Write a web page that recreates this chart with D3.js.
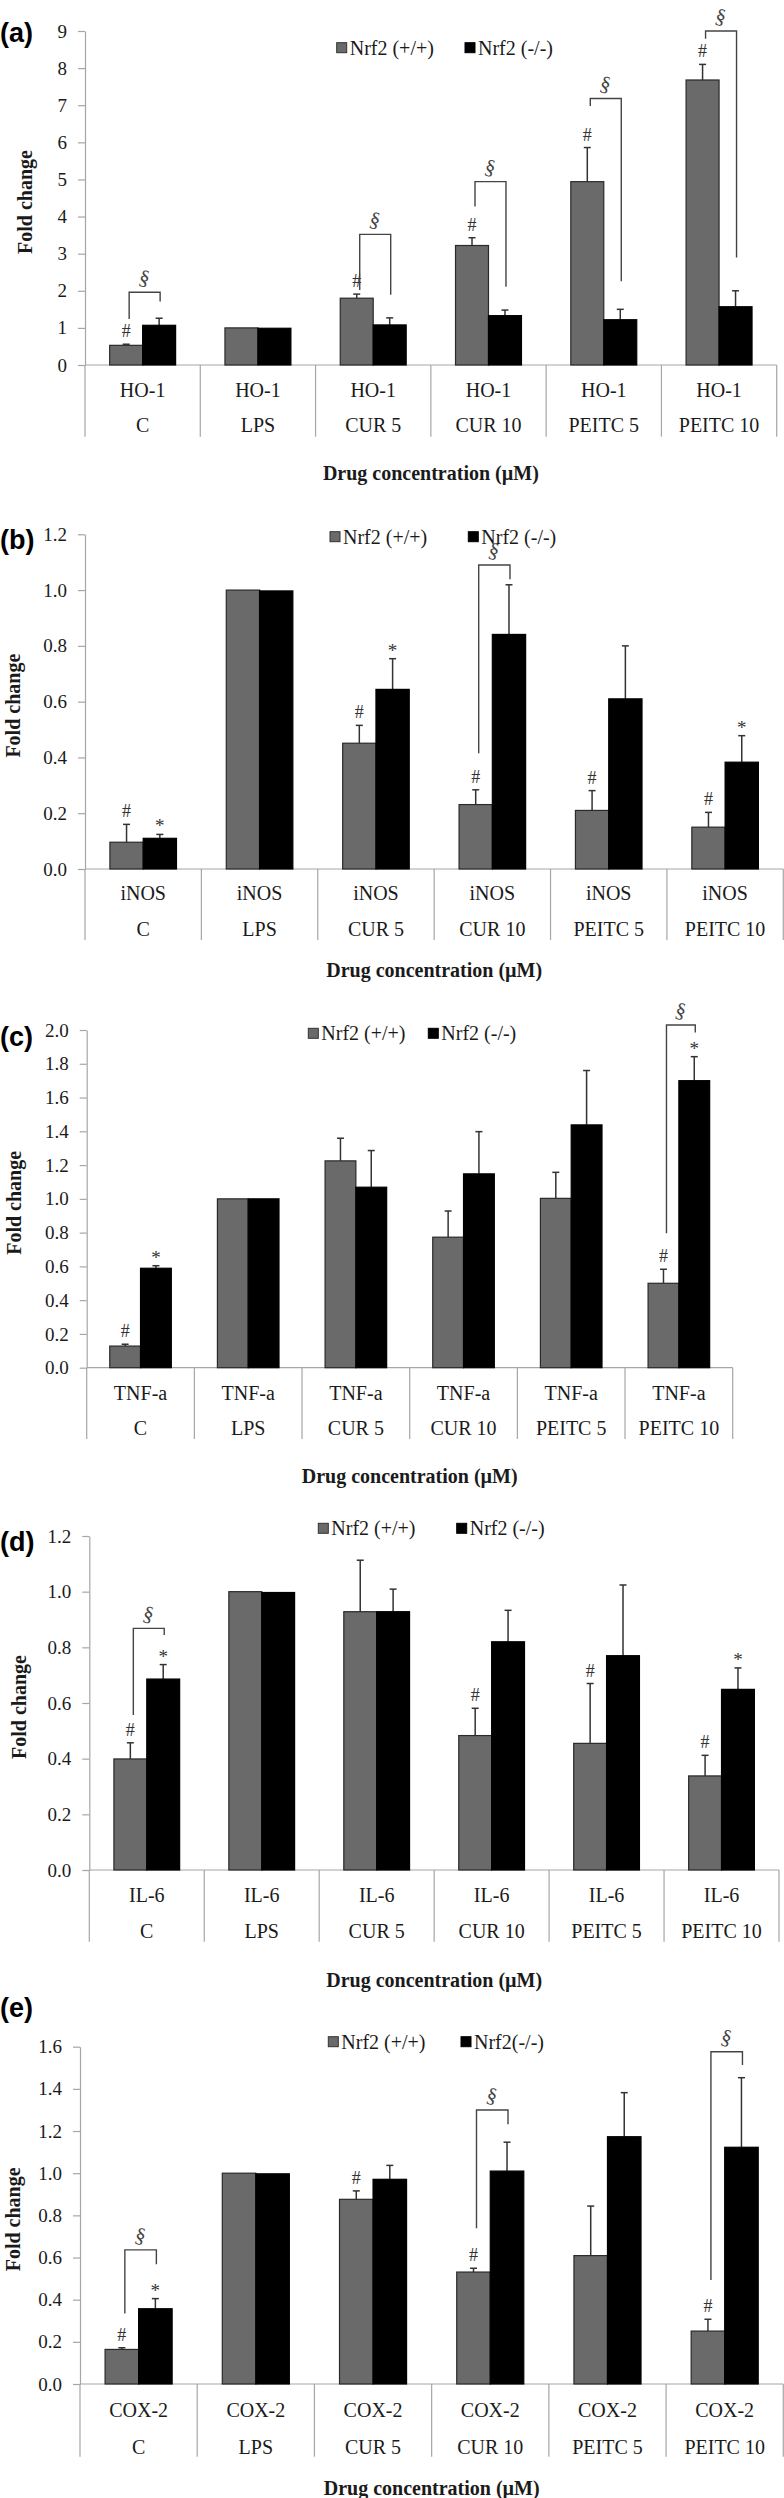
<!DOCTYPE html>
<html><head><meta charset="utf-8">
<script src="https://cdn.jsdelivr.net/npm/d3@7"></script>
<style>body{margin:0;background:#fff} svg{display:block}</style>
</head><body>
<svg id="chart" width="784" height="2498"></svg>
<script>
// ---------- DATA ----------
const categories = ["C", "LPS", "CUR 5", "CUR 10", "PEITC 5", "PEITC 10"];
const seriesNames = ["Nrf2 (+/+)", "Nrf2 (-/-)"];
const seriesNamesE = ["Nrf2 (+/+)", "Nrf2(-/-)"];
const xTitle = "Drug concentration (\u00B5M)";
const yTitle = "Fold change";

// (a) HO-1
const hoWT = [0.53, 1.00, 1.80, 3.22, 4.94, 7.68];
const hoWTErr = [0.03, 0.00, 0.11, 0.21, 0.92, 0.42];
const hoKO = [1.07, 0.99, 1.08, 1.33, 1.22, 1.57];
const hoKOErr = [0.19, 0.00, 0.19, 0.15, 0.28, 0.43];
const hoHash = ["C", "CUR 5", "CUR 10", "PEITC 5", "PEITC 10"];
const hoStar = [];
const hoBrackets = [
  {cat: "C", top: 1.96, left: 1.24, right: 1.71},
  {cat: "CUR 5", top: 3.52, left: 2.02, right: 1.89},
  {cat: "CUR 10", top: 4.94, left: 4.27, right: 2.11},
  {cat: "PEITC 5", top: 7.18, left: 6.98, right: 2.26},
  {cat: "PEITC 10", top: 9.0, left: 8.79, right: 2.90}
];
const hoTicks = [0, 1, 2, 3, 4, 5, 6, 7, 8, 9];

// (b) iNOS
const inosWT = [0.096, 1.00, 0.451, 0.231, 0.21, 0.15];
const inosWTErr = [0.064, 0.00, 0.064, 0.053, 0.071, 0.053];
const inosKO = [0.11, 0.997, 0.644, 0.841, 0.61, 0.383];
const inosKOErr = [0.014, 0.00, 0.11, 0.178, 0.19, 0.095];
const inosHash = ["C", "CUR 5", "CUR 10", "PEITC 5", "PEITC 10"];
const inosStar = ["C", "CUR 5", "PEITC 10"];
const inosBrackets = [{cat: "CUR 10", top: 1.09, left: 0.415, right: 1.039}];
const inosTicks = [0, 0.2, 0.4, 0.6, 0.8, 1.0, 1.2];

// (c) TNF-a
const tnfWT = [0.128, 1.00, 1.225, 0.773, 1.003, 0.50];
const tnfWTErr = [0.011, 0.00, 0.134, 0.155, 0.154, 0.083];
const tnfKO = [0.589, 1.00, 1.069, 1.148, 1.438, 1.70];
const tnfKOErr = [0.015, 0.00, 0.217, 0.25, 0.322, 0.142];
const tnfHash = ["C", "PEITC 10"];
const tnfStar = ["C", "PEITC 10"];
const tnfBrackets = [{cat: "PEITC 10", top: 2.03, left: 0.796, right: 1.985}];
const tnfTicks = [0, 0.2, 0.4, 0.6, 0.8, 1.0, 1.2, 1.4, 1.6, 1.8, 2.0];

// (d) IL-6
const il6WT = [0.399, 1.00, 0.928, 0.483, 0.455, 0.338];
const il6WTErr = [0.058, 0.00, 0.185, 0.098, 0.215, 0.074];
const il6KO = [0.686, 0.997, 0.928, 0.82, 0.77, 0.649];
const il6KOErr = [0.052, 0.00, 0.081, 0.113, 0.254, 0.077];
const il6Hash = ["C", "CUR 10", "PEITC 5", "PEITC 10"];
const il6Star = ["C", "PEITC 10"];
const il6Brackets = [{cat: "C", top: 0.868, left: 0.557, right: 0.844}];
const il6Ticks = [0, 0.2, 0.4, 0.6, 0.8, 1.0, 1.2];

// (e) COX-2
const coxWT = [0.164, 1.00, 0.876, 0.531, 0.609, 0.251];
const coxWTErr = [0.008, 0.00, 0.04, 0.018, 0.235, 0.056];
const coxKO = [0.357, 0.997, 0.971, 1.010, 1.173, 1.123];
const coxKOErr = [0.048, 0.00, 0.066, 0.137, 0.209, 0.33];
const coxHash = ["C", "CUR 5", "CUR 10", "PEITC 10"];
const coxStar = ["C"];
const coxBrackets = [
  {cat: "C", top: 0.636, left: 0.335, right: 0.568},
  {cat: "CUR 10", top: 1.30, left: 0.739, right: 1.232},
  {cat: "PEITC 10", top: 1.576, left: 0.493, right: 1.513}
];
const coxTicks = [0, 0.2, 0.4, 0.6, 0.8, 1.0, 1.2, 1.4, 1.6];

// ---------- PANELS (data + layout) ----------
const panels = [
  {tag: "(a)", gene: "HO-1", wt: hoWT, wtErr: hoWTErr, ko: hoKO, koErr: hoKOErr, hash: hoHash, star: hoStar, brackets: hoBrackets, ticks: hoTicks, fmt: "d", names: seriesNames,
   x0: 85, x1: 776.7, yZero: 365, yTop: 31, divBottom: 436.7, lab1Y: 390, lab2Y: 425, titleY: 473, legY: 47.7, legGX: 336.7, legBX: 465, tagY: 33, yTitleX: 25},
  {tag: "(b)", gene: "iNOS", wt: inosWT, wtErr: inosWTErr, ko: inosKO, koErr: inosKOErr, hash: inosHash, star: inosStar, brackets: inosBrackets, ticks: inosTicks, fmt: ".1f", names: seriesNames,
   x0: 85, x1: 783.3, yZero: 869, yTop: 534.3, divBottom: 940, lab1Y: 893.3, lab2Y: 929.3, titleY: 970, legY: 536.7, legGX: 330, legBX: 468.3, tagY: 540, yTitleX: 13},
  {tag: "(c)", gene: "TNF-a", wt: tnfWT, wtErr: tnfWTErr, ko: tnfKO, koErr: tnfKOErr, hash: tnfHash, star: tnfStar, brackets: tnfBrackets, ticks: tnfTicks, fmt: ".1f", names: seriesNames,
   x0: 86.7, x1: 732.7, yZero: 1367.7, yTop: 1030, divBottom: 1439, lab1Y: 1393.3, lab2Y: 1428.3, titleY: 1475.7, legY: 1033.3, legGX: 308.3, legBX: 428.3, tagY: 1036.7, yTitleX: 14},
  {tag: "(d)", gene: "IL-6", wt: il6WT, wtErr: il6WTErr, ko: il6KO, koErr: il6KOErr, hash: il6Hash, star: il6Star, brackets: il6Brackets, ticks: il6Ticks, fmt: ".1f", names: seriesNames,
   x0: 89.3, x1: 779, yZero: 1870, yTop: 1536, divBottom: 1941.7, lab1Y: 1895, lab2Y: 1930.7, titleY: 1980, legY: 1528.3, legGX: 318.3, legBX: 456.7, tagY: 1541.7, yTitleX: 19},
  {tag: "(e)", gene: "COX-2", wt: coxWT, wtErr: coxWTErr, ko: coxKO, koErr: coxKOErr, hash: coxHash, star: coxStar, brackets: coxBrackets, ticks: coxTicks, fmt: ".1f", names: seriesNamesE,
   x0: 80, x1: 783.3, yZero: 2384, yTop: 2046.7, divBottom: 2456.7, lab1Y: 2410, lab2Y: 2446.7, titleY: 2488.3, legY: 2041.7, legGX: 328.3, legBX: 461, tagY: 2008, yTitleX: 13}
];

// ---------- DRAW ----------
const svg = d3.select("#chart");
const serif = "'Liberation Serif','Times New Roman',Times,serif";
const sans = "'Liberation Sans',Arial,sans-serif";
const axisColor = "#a6a6a6";
const grayFill = "#6a6a6a";
const textColor = "#1a1a1a";

panels.forEach(p => {
  const g = svg.append("g");
  const max = p.ticks[p.ticks.length - 1];
  const x = d3.scaleBand().domain(categories).range([p.x0, p.x1]);
  const y = d3.scaleLinear().domain([0, max]).range([p.yZero, p.yTop]);
  const bw = x.bandwidth() * 0.286;
  const cx = c => x(c) + x.bandwidth() / 2;

  // y axis
  const ax = d3.axisLeft(y).tickValues(p.ticks).tickFormat(d3.format(p.fmt))
    .tickSize(7).tickSizeOuter(0).tickPadding(11);
  const axG = g.append("g").attr("transform", `translate(${p.x0},0)`).call(ax);
  axG.select(".domain").attr("stroke", axisColor).attr("stroke-width", 1.2);
  axG.selectAll(".tick line").attr("stroke", axisColor).attr("stroke-width", 1.2);
  axG.selectAll(".tick text").attr("font-family", serif).attr("font-size", 19).attr("fill", textColor);

  // x baseline + dividers
  g.append("line").attr("x1", p.x0).attr("x2", p.x1).attr("y1", p.yZero).attr("y2", p.yZero)
    .attr("stroke", axisColor).attr("stroke-width", 1.2);
  const bounds = categories.map(c => x(c)).concat([p.x1]);
  g.selectAll("line.div").data(bounds).join("line").attr("class", "div")
    .attr("x1", d => d).attr("x2", d => d).attr("y1", p.yZero).attr("y2", p.divBottom)
    .attr("stroke", axisColor).attr("stroke-width", 1.2);

  // category labels
  g.selectAll("text.gene").data(categories).join("text").attr("class", "gene")
    .attr("x", d => cx(d)).attr("y", p.lab1Y).attr("dy", "0.35em")
    .attr("text-anchor", "middle").attr("font-family", serif).attr("font-size", 20).attr("fill", textColor)
    .text(p.gene);
  g.selectAll("text.cat").data(categories).join("text").attr("class", "cat")
    .attr("x", d => cx(d)).attr("y", p.lab2Y).attr("dy", "0.35em")
    .attr("text-anchor", "middle").attr("font-family", serif).attr("font-size", 20).attr("fill", textColor)
    .text(d => d);

  // bars
  const series = [
    {vals: p.wt, errs: p.wtErr, fill: grayFill, stroke: "#2a2a2a", off: -1},
    {vals: p.ko, errs: p.koErr, fill: "#000", stroke: "#000", off: 0}
  ];
  series.forEach((s, si) => {
    const rows = categories.map((c, i) => ({c, v: s.vals[i], e: s.errs[i]}));
    const bx = d => cx(d.c) + s.off * bw;
    const eg = g.append("g");
    eg.selectAll("line.ev").data(rows.filter(d => d.e > 0)).join("line")
      .attr("x1", d => bx(d) + bw / 2).attr("x2", d => bx(d) + bw / 2)
      .attr("y1", d => y(d.v)).attr("y2", d => y(d.v + d.e))
      .attr("stroke", "#333").attr("stroke-width", 1.5);
    eg.selectAll("line.ec").data(rows.filter(d => d.e > 0)).join("line")
      .attr("x1", d => bx(d) + bw / 2 - 3.5).attr("x2", d => bx(d) + bw / 2 + 3.5)
      .attr("y1", d => y(d.v + d.e)).attr("y2", d => y(d.v + d.e))
      .attr("stroke", "#333").attr("stroke-width", 1.5);
    g.selectAll(null).data(rows).join("rect")
      .attr("x", d => bx(d)).attr("width", bw)
      .attr("y", d => y(d.v)).attr("height", d => y(0) - y(d.v))
      .attr("fill", s.fill).attr("stroke", s.stroke).attr("stroke-width", 1.2);
  });

  const idx = c => categories.indexOf(c);
  g.selectAll(null).data(p.hash).join("text")
    .attr("x", d => cx(d) - bw / 2)
    .attr("y", d => y(p.wt[idx(d)] + p.wtErr[idx(d)]) - 7)
    .attr("text-anchor", "middle").attr("font-family", serif).attr("font-size", 18).attr("fill", "#333")
    .text("#");
  g.selectAll(null).data(p.star).join("text")
    .attr("x", d => cx(d) + bw / 2)
    .attr("y", d => y(p.ko[idx(d)] + p.koErr[idx(d)]) - 2)
    .attr("text-anchor", "middle").attr("font-family", serif).attr("font-size", 19).attr("fill", "#333")
    .text("*");
  p.brackets.forEach(b => {
    const lx = cx(b.cat) - bw / 2 + 3, rx = cx(b.cat) + bw / 2 + 1;
    g.append("path")
      .attr("d", `M${lx},${y(b.left)}V${y(b.top)}H${rx}V${y(b.right)}`)
      .attr("fill", "none").attr("stroke", "#444").attr("stroke-width", 1.4);
    const sx = (lx + rx) / 2, sy = y(b.top) - 15;
    g.append("text").attr("transform", `translate(${sx},${sy}) rotate(15)`)
      .attr("dy", "0.35em").attr("text-anchor", "middle")
      .attr("font-family", serif).attr("font-size", 21).attr("fill", "#444")
      .text("\u00A7");
  });

  // legend
  [[p.legGX, grayFill, "#333", p.names[0]], [p.legBX, "#000", "#000", p.names[1]]].forEach(([lx, f, st, name]) => {
    g.append("rect").attr("x", lx).attr("y", p.legY - 5).attr("width", 10).attr("height", 10)
      .attr("fill", f).attr("stroke", st).attr("stroke-width", 1);
    g.append("text").attr("x", lx + 13).attr("y", p.legY).attr("dy", "0.35em")
      .attr("font-family", serif).attr("font-size", 20).attr("fill", textColor).text(name);
  });

  // axis titles
  g.append("text").attr("x", (p.x0 + p.x1) / 2).attr("y", p.titleY).attr("dy", "0.35em")
    .attr("text-anchor", "middle").attr("font-family", serif).attr("font-weight", "bold")
    .attr("font-size", 20).attr("fill", textColor).text(xTitle);
  g.append("text").attr("transform", `translate(${p.yTitleX},${(p.yZero + p.yTop) / 2 + 4}) rotate(-90)`)
    .attr("dy", "0.35em").attr("text-anchor", "middle").attr("font-family", serif).attr("font-weight", "bold")
    .attr("font-size", 20).attr("fill", textColor).text(yTitle);

  // panel tag
  g.append("text").attr("x", 0).attr("y", p.tagY).attr("dy", "0.35em")
    .attr("font-family", sans).attr("font-weight", "bold").attr("font-size", 27).attr("fill", "#000")
    .text(p.tag);
});
</script>
</body></html>
